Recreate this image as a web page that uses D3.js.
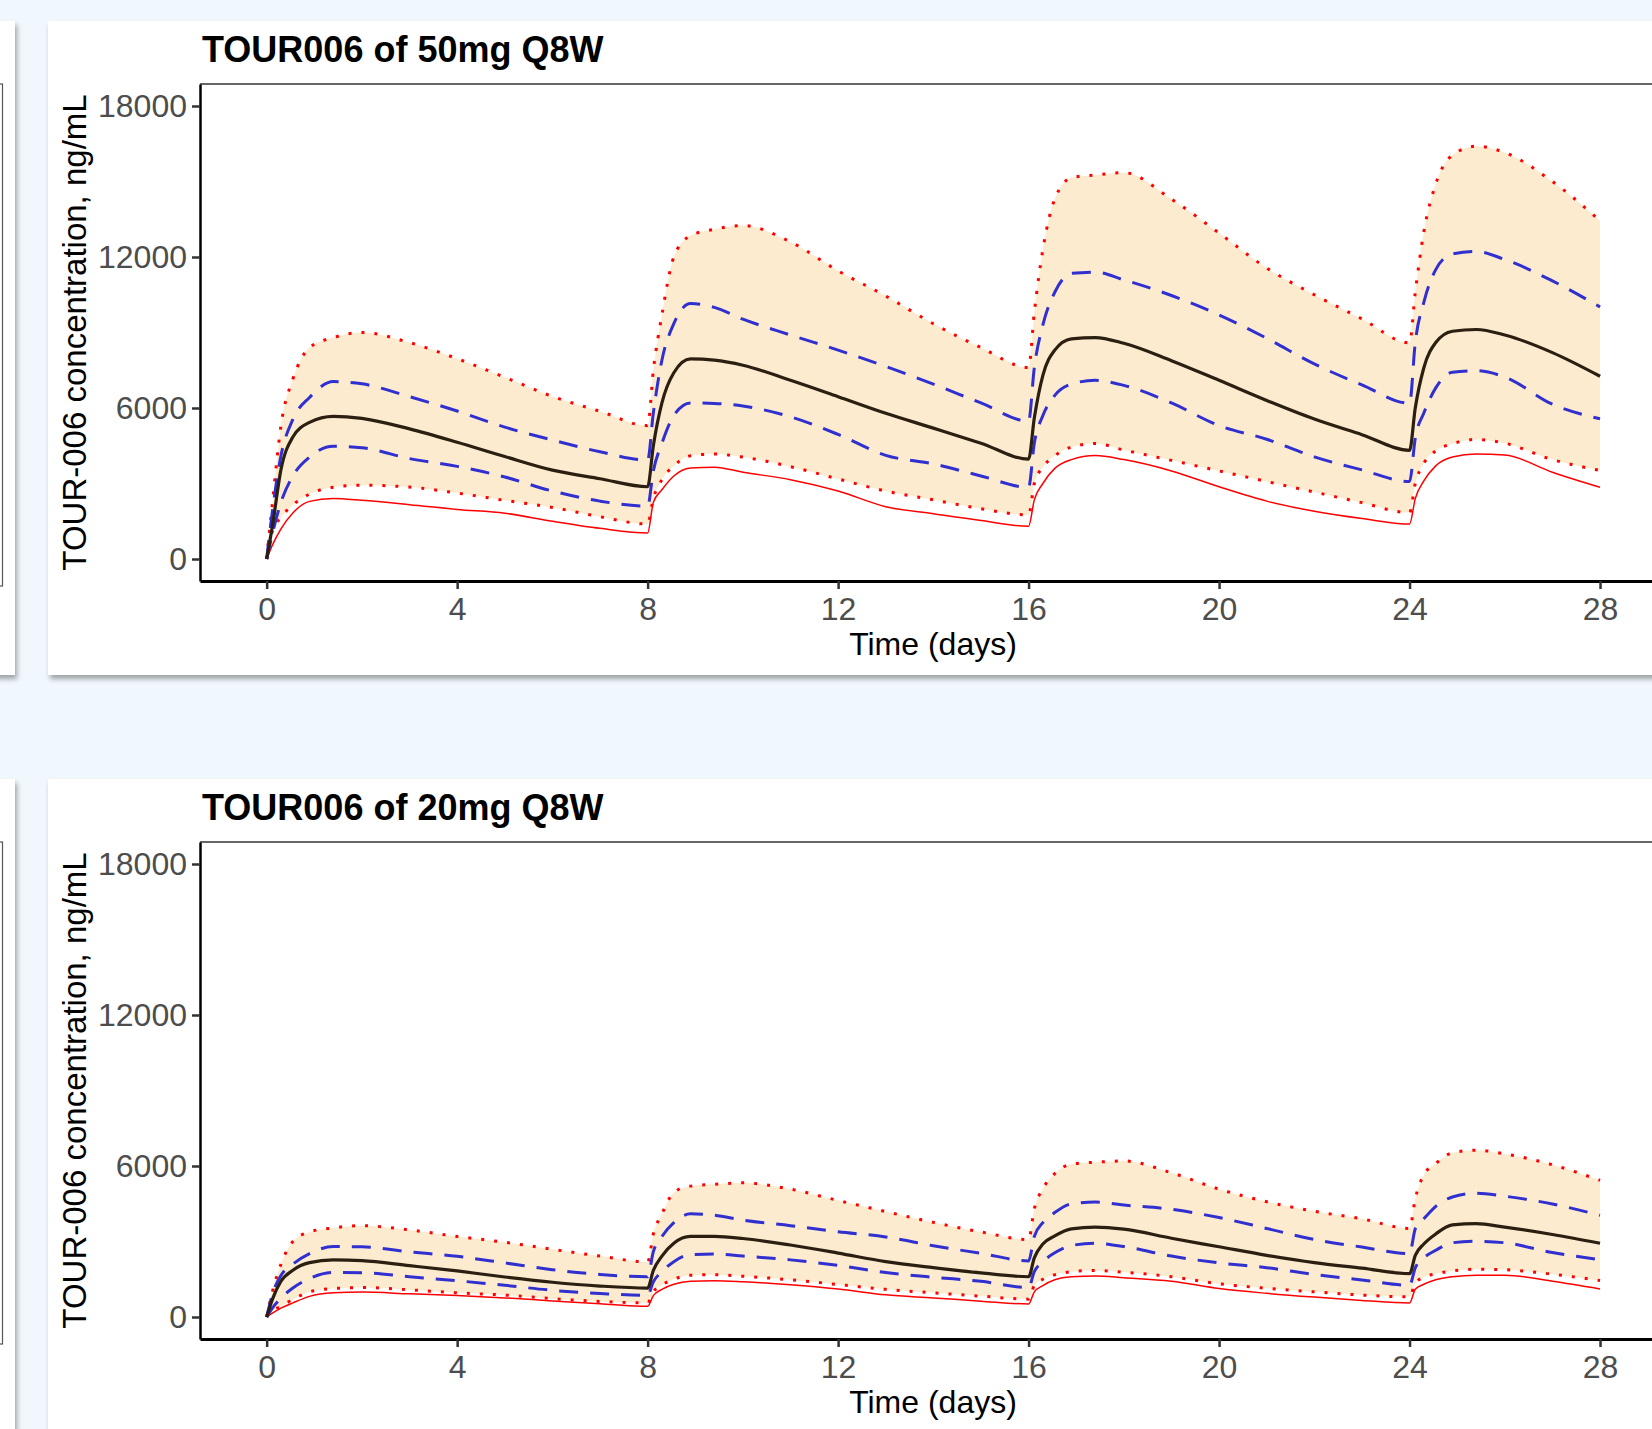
<!DOCTYPE html>
<html>
<head>
<meta charset="utf-8">
<script src="https://cdn.jsdelivr.net/npm/d3@7"></script>
<style>
  html, body { margin: 0; padding: 0; }
  body { width: 1652px; height: 1429px; background: #f1f8fd; position: relative; overflow: hidden;
         font-family: "Liberation Sans", Arial, sans-serif; }
  .card { position: absolute; background: #fff; box-shadow: 2px 4px 5px rgba(0,0,0,0.35); }
  #chart { position: absolute; left: 0; top: 0; }
</style>
</head>
<body>
<div class="card" style="left:-100px;top:21px;width:115px;height:654px"></div>
<div class="card" style="left:48px;top:21px;width:1700px;height:654px"></div>
<div class="card" style="left:-100px;top:779px;width:115px;height:800px"></div>
<div class="card" style="left:48px;top:779px;width:1700px;height:800px"></div>
<svg id="chart" width="1652" height="1429"></svg>
<script>
// time grid (days), shared by every series
const days = [0, 0.12, 0.3, 0.55, 0.9, 1.4, 2, 3, 4, 5, 6, 7,
              8, 8.12, 8.3, 8.55, 8.9, 9.4, 10, 11, 12, 13, 14, 15,
              16, 16.12, 16.3, 16.55, 16.9, 17.4, 18, 19, 20, 21, 22, 23,
              24, 24.12, 24.3, 24.55, 24.9, 25.4, 26, 27, 28];

// 50mg Q8W
const median50 = [0, 1300, 3550, 4850, 5430, 5670, 5590, 5170, 4640, 4070, 3530, 3190,
                  2870, 4500, 6200, 7400, 7950, 7900, 7700, 7100, 6450, 5790, 5200, 4600,
                  3970, 5600, 7300, 8300, 8750, 8800, 8570, 7880, 7100, 6300, 5560, 4940,
                  4320, 6000, 7600, 8600, 9050, 9120, 8900, 8200, 7260];
const upper50 = [0, 1900, 4100, 5550, 6420, 7050, 6960, 6450, 5880, 5240, 4730, 4260,
                 3930, 5800, 7900, 9350, 10150, 10000, 9530, 8900, 8300, 7650, 6950, 6200,
                 5480, 7600, 9300, 10600, 11350, 11400, 11090, 10470, 9700, 8770, 7750, 6920,
                 6190, 8600, 10200, 11500, 12120, 12220, 11900, 11050, 10015];
const lower50 = [0, 1000, 2250, 3300, 4050, 4480, 4420, 3990, 3680, 3260, 2700, 2300,
                 2100, 3500, 4600, 5700, 6200, 6180, 6080, 5650, 4950, 4120, 3780, 3300,
                 2850, 4600, 5700, 6500, 6950, 7100, 6900, 6200, 5300, 4760, 4060, 3540,
                 3080, 4800, 5800, 6800, 7420, 7480, 7230, 6150, 5570];
const upperOuter50 = [0, 2200, 5300, 7150, 8400, 8800, 9000, 8600, 7960, 7220, 6460, 5870,
                      5300, 7500, 9700, 12000, 12850, 13100, 13250, 12600, 11450, 10450, 9350, 8400,
                      7610, 9800, 12300, 14300, 15150, 15260, 15350, 14300, 12950, 11560, 10500, 9540,
                      8590, 10600, 13000, 14900, 16050, 16400, 16150, 15000, 13440];
const lowerOuter50 = [0, 1100, 1650, 2150, 2580, 2850, 2930, 2860, 2620, 2330, 2050, 1680,
                      1390, 2400, 3150, 3700, 4100, 4170, 4050, 3670, 3180, 2700, 2350, 2000,
                      1750, 3000, 3650, 4100, 4450, 4590, 4330, 3920, 3500, 3080, 2660, 2240,
                      1840, 3000, 3800, 4300, 4580, 4750, 4600, 3950, 3520];
const redLine50 = [0, 550, 1200, 1830, 2290, 2400, 2330, 2160, 1970, 1820, 1500, 1220,
                   1035, 2250, 2750, 3300, 3620, 3650, 3450, 3150, 2700, 2080, 1800, 1530,
                   1300, 2350, 3000, 3600, 3950, 4110, 3950, 3500, 2870, 2300, 1900, 1610,
                   1390, 2400, 3100, 3700, 4050, 4170, 4130, 3450, 2850];

// 20mg Q8W
const median20 = [0, 700, 1420, 1860, 2160, 2270, 2240, 2040, 1830, 1590, 1380, 1230,
                  1150, 1850, 2420, 2930, 3200, 3200, 3120, 2860, 2540, 2200, 1960, 1750,
                  1600, 2350, 2900, 3220, 3500, 3570, 3490, 3130, 2790, 2450, 2160, 1940,
                  1720, 2450, 2900, 3300, 3660, 3710, 3570, 3280, 2930];
const upper20 = [0, 900, 1650, 2100, 2520, 2800, 2790, 2590, 2410, 2150, 1880, 1690,
                 1600, 2600, 3200, 3750, 4100, 4050, 3850, 3630, 3390, 3180, 2830, 2530,
                 2230, 3200, 3750, 4150, 4500, 4570, 4450, 4280, 3950, 3520, 3080, 2780,
                 2520, 3500, 3900, 4400, 4770, 4920, 4800, 4490, 4040];
const lower20 = [0, 350, 750, 1150, 1530, 1770, 1760, 1600, 1440, 1260, 1060, 935,
                 860, 1400, 1800, 2200, 2480, 2500, 2420, 2270, 2050, 1770, 1580, 1420,
                 1170, 1800, 2200, 2550, 2840, 2930, 2800, 2420, 2150, 1960, 1690, 1470,
                 1260, 1950, 2350, 2650, 2950, 3010, 2950, 2560, 2280];
const upperOuter20 = [0, 1000, 2100, 3000, 3380, 3540, 3630, 3460, 3200, 2970, 2690, 2420,
                      2190, 3300, 4100, 4950, 5200, 5270, 5330, 5080, 4630, 4190, 3760, 3380,
                      3080, 4300, 5100, 5700, 6080, 6150, 6200, 5730, 5080, 4580, 4200, 3900,
                      3520, 4700, 5650, 6100, 6530, 6630, 6480, 6050, 5430];
const lowerOuter20 = [0, 250, 420, 700, 1000, 1130, 1170, 1080, 960, 870, 730, 620,
                      560, 1000, 1270, 1500, 1660, 1680, 1620, 1480, 1290, 1100, 960, 830,
                      710, 1250, 1500, 1680, 1800, 1850, 1780, 1600, 1320, 1140, 1000, 870,
                      800, 1350, 1580, 1720, 1830, 1900, 1880, 1700, 1450];
const redLine20 = [0, 150, 350, 560, 820, 960, 990, 920, 850, 760, 640, 530,
                   430, 850, 1100, 1300, 1420, 1440, 1400, 1280, 1110, 880, 760, 630,
                   520, 1000, 1250, 1480, 1600, 1630, 1560, 1420, 1130, 940, 790, 660,
                   560, 1100, 1300, 1480, 1600, 1660, 1660, 1420, 1115];

const xTicks = [0, 4, 8, 12, 16, 20, 24, 28];
const yTicks = [0, 6000, 12000, 18000];

const font = '"Liberation Sans", Arial, sans-serif';
const svg = d3.select("#chart");

// edge of the neighbouring plot on the left
[0, 758].forEach(dy => {
  svg.append("rect")
     .attr("x", -50).attr("y", 84 + dy)
     .attr("width", 52.5).attr("height", 502)
     .attr("fill", "none").attr("stroke", "#555").attr("stroke-width", 1.2);
});

function drawPanel(dy, title, s) {
  const x = d3.scaleLinear().domain([-1.4, 29.4]).range([200, 1666.7]);
  const y = d3.scaleLinear().domain([-874, 18874]).range([581 + dy, 84 + dy]);
  const g = svg.append("g");
  const pts = arr => arr.map((v, i) => [days[i], v]);
  const line = d3.line().curve(d3.curveMonotoneX).x(p => x(p[0])).y(p => y(p[1]));

  // shaded interval between the dotted lines
  g.append("path")
   .datum(days.map((d, i) => [d, s.lowerOuter[i], s.upperOuter[i]]))
   .attr("d", d3.area().curve(d3.curveMonotoneX)
                .x(p => x(p[0])).y0(p => y(p[1])).y1(p => y(p[2])))
   .attr("fill", "#fdebcf");

  g.append("path").datum(pts(s.redLine)).attr("d", line)
   .attr("fill", "none").attr("stroke", "#ff0000").attr("stroke-width", 1.5);

  [s.lowerOuter, s.upperOuter].forEach(arr => {
    g.append("path").datum(pts(arr)).attr("d", line)
     .attr("fill", "none").attr("stroke", "#ff0000").attr("stroke-width", 3)
     .attr("stroke-dasharray", "3 10");
  });

  [s.lower, s.upper].forEach(arr => {
    g.append("path").datum(pts(arr)).attr("d", line)
     .attr("fill", "none").attr("stroke", "#3030d0").attr("stroke-width", 3)
     .attr("stroke-dasharray", "19 12");
  });

  g.append("path").datum(pts(s.median)).attr("d", line)
   .attr("fill", "none").attr("stroke", "#2a1f10").attr("stroke-width", 3.2);

  // panel border (top)
  g.append("line").attr("x1", 200).attr("x2", 1667).attr("y1", 84 + dy).attr("y2", 84 + dy)
   .attr("stroke", "#333").attr("stroke-width", 1.5);

  const xAxis = g.append("g").attr("transform", `translate(0,${581 + dy})`)
    .call(d3.axisBottom(x).tickValues(xTicks).tickSize(8).tickSizeOuter(0).tickPadding(8));
  const yAxis = g.append("g").attr("transform", "translate(200,0)")
    .call(d3.axisLeft(y).tickValues(yTicks).tickSize(8).tickSizeOuter(0).tickPadding(5)
          .tickFormat(d3.format("d")));

  xAxis.select(".domain").attr("stroke", "#000").attr("stroke-width", 3);
  yAxis.select(".domain").attr("stroke", "#000").attr("stroke-width", 2.5);
  [xAxis, yAxis].forEach(a => {
    a.attr("font-size", 32).attr("font-family", font);
    a.selectAll(".tick line").attr("stroke", "#333").attr("stroke-width", 2.5);
    a.selectAll(".tick text").attr("fill", "#4d4d4d");
  });

  g.append("text").attr("x", 202).attr("y", 62 + dy)
   .attr("font-family", font).attr("font-size", 36).attr("font-weight", "bold")
   .attr("fill", "#000").text(title);

  g.append("text").attr("x", 933).attr("y", 655 + dy)
   .attr("text-anchor", "middle").attr("font-family", font).attr("font-size", 32)
   .attr("fill", "#000").text("Time (days)");

  g.append("text")
   .attr("transform", `translate(86,${332.5 + dy}) rotate(-90)`)
   .attr("text-anchor", "middle").attr("font-family", font).attr("font-size", 33)
   .attr("fill", "#000").text("TOUR-006 concentration, ng/mL");
}

drawPanel(0, "TOUR006 of 50mg Q8W", {
  median: median50, upper: upper50, lower: lower50,
  upperOuter: upperOuter50, lowerOuter: lowerOuter50, redLine: redLine50
});
drawPanel(758, "TOUR006 of 20mg Q8W", {
  median: median20, upper: upper20, lower: lower20,
  upperOuter: upperOuter20, lowerOuter: lowerOuter20, redLine: redLine20
});
</script>
</body>
</html>
